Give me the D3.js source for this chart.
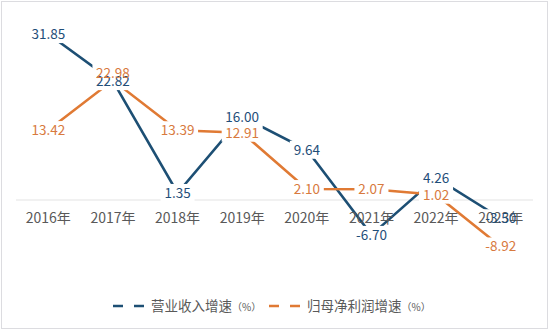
<!DOCTYPE html>
<html><head><meta charset="utf-8">
<script src="https://cdn.jsdelivr.net/npm/d3@7/dist/d3.min.js"></script>
<style>body{margin:0;background:#fff}svg{display:block}</style>
</head><body><svg id="c" width="550" height="331"></svg>
<script>
const categories = ["2016年","2017年","2018年","2019年","2020年","2021年","2022年","2023年"];
const revenueGrowth = [31.85, 22.82, 1.35, 16.00, 9.64, -6.70, 4.26, -3.50];
const profitGrowth = [13.42, 22.98, 13.39, 12.91, 2.10, 2.07, 1.02, -8.92];
const seriesNames = ["营业收入增速", "归母净利润增速"];
const colors = ["#1d4f74", "#e07a34"];
const labelColors = ["#1f4e79", "#d87a3e"];

const svg = d3.select("#c");
const font = "'Noto Sans CJK SC','Noto Sans',sans-serif";
svg.append("rect").attr("x",1.5).attr("y",1.5).attr("width",546).attr("height",327)
  .attr("fill","#fff").attr("stroke","#dcdce0");

const x = d3.scaleBand().domain(categories).range([16,533]);
const y = d3.scaleLinear().domain([-10,35]).range([252.1,17.65]);
const cx = c => x(c) + x.bandwidth()/2;

svg.append("line").attr("x1",16).attr("x2",533).attr("y1",y(0)).attr("y2",y(0))
  .attr("stroke","#e3e3e3").attr("stroke-width",1);

const series = [revenueGrowth, profitGrowth];
const line = d3.line().x((d,i)=>cx(categories[i])).y(d=>y(d));
series.forEach((s,k)=>{
  svg.append("path").attr("d",line(s)).attr("fill","none")
    .attr("stroke",colors[k]).attr("stroke-width",2.6);
});

// label positions (profit 2017 shifted up to avoid overlap)
const labels = [];
series.forEach((s,k)=>s.forEach((v,i)=>{
  let ly = y(v);
  if (k===1 && i===1) ly -= 7;
  labels.push({k, i, v, lx: cx(categories[i]), ly});
}));

// clipping boxes
const lg = svg.append("g");
labels.forEach(d=>{
  const t = d.v.toFixed(2);
  const w = t.length*7.0 + 6;
  lg.append("rect").attr("x",d.lx-w/2).attr("y",d.ly-9).attr("width",w).attr("height",18).attr("fill","#fff");
});

// axis labels
svg.append("g").selectAll("text").data(categories).join("text")
  .attr("x",d=>cx(d)).attr("y",y(0)+23).attr("text-anchor","middle")
  .attr("font-family",font).attr("font-size",14).attr("fill","#595959").text(d=>d);

// data labels
svg.append("g").selectAll("text").data(labels).join("text")
  .attr("x",d=>d.lx).attr("y",d=>d.ly).attr("dy","0.36em").attr("text-anchor","middle")
  .attr("font-family",font).attr("font-size",13.5).attr("fill",d=>labelColors[d.k])
  .text(d=>d.v.toFixed(2));

// legend
const legX = [113, 269];
seriesNames.forEach((n,k)=>{
  const g = svg.append("g").attr("transform",`translate(${legX[k]},306)`);
  g.append("line").attr("x1",0).attr("x2",34).attr("y1",0).attr("y2",0)
    .attr("stroke",colors[k]).attr("stroke-width",2.6).attr("stroke-dasharray","10,11");
  const t = g.append("text").attr("x",38).attr("dy","0.36em").attr("font-family",font)
    .attr("font-size",13.5).attr("fill","#595959");
  t.append("tspan").text(n);
  t.append("tspan").attr("font-size",10).text("（%）");
});
</script></body></html>
